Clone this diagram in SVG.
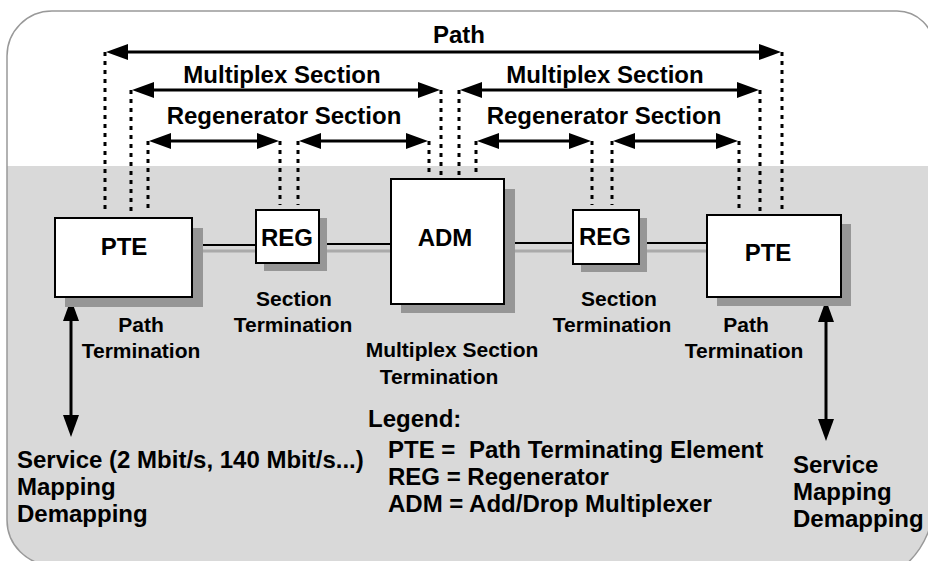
<svg xmlns="http://www.w3.org/2000/svg" width="928" height="561" viewBox="0 0 928 561">
  <style>
    text { font-family: "Liberation Sans", Arial, Helvetica, sans-serif; font-weight: bold; fill: #000; }
    .big { font-size: 24px; }
    .small { font-size: 21px; }
    .mid { text-anchor: middle; }
    .box { fill: #fff; stroke: #000; stroke-width: 2; }
    .shadow { fill: #969696; }
    .arrow { stroke: #000; stroke-width: 3; fill: none; marker-start: url(#ah); marker-end: url(#ah); }
    .dot { stroke: #000; stroke-width: 3; stroke-dasharray: 4 5; fill: none; }
    .link { stroke: #000; stroke-width: 2; fill: none; }
    .link2 { stroke: #aaaaaa; stroke-width: 3; fill: none; }
  </style>
  <defs>
    <marker id="ah" viewBox="0 0 22 16" refX="12" refY="8" markerWidth="22" markerHeight="16" markerUnits="userSpaceOnUse" orient="auto-start-reverse">
      <path d="M0,0 L22,8 L0,16 Z" fill="#000"/>
    </marker>
    <clipPath id="frameClip">
      <path id="framePath" d="M7,56 A45,45 0 0 1 52,11 L897,11 A37,37 0 0 1 934,48 L934,501 A86,86 0 0 1 848,587 L52,565 A45,45 0 0 1 7,520 Z"/>
    </clipPath>
  </defs>

  <g id="frame">
    <path d="M7,56 A45,45 0 0 1 52,11 L897,11 A37,37 0 0 1 934,48 L934,501 A86,86 0 0 1 848,587 L52,565 A45,45 0 0 1 7,520 Z" fill="#fff"/>
    <rect x="0" y="166" width="940" height="430" fill="#d9d9d9" clip-path="url(#frameClip)"/>
    <path d="M7,56 A45,45 0 0 1 52,11 L897,11 A37,37 0 0 1 934,48 L934,501 A86,86 0 0 1 848,587 L52,565 A45,45 0 0 1 7,520 Z" fill="none" stroke="#999" stroke-width="1.5"/>
  </g>

  <g id="connectors">
    <!-- links between elements -->
    <line class="link2" x1="192" y1="251" x2="707" y2="251"/>
    <line class="link" x1="192" y1="245" x2="256" y2="245"/>
    <line class="link" x1="319" y1="244" x2="391" y2="244"/>
    <line class="link" x1="504" y1="243" x2="573" y2="243"/>
    <line class="link" x1="639" y1="243" x2="707" y2="243"/>

    <!-- dotted reference lines -->
    <line class="dot" x1="105" y1="52" x2="105" y2="211"/>
    <line class="dot" x1="131" y1="90" x2="131" y2="211"/>
    <line class="dot" x1="148" y1="141" x2="148" y2="211"/>
    <line class="dot" x1="280" y1="141" x2="280" y2="205"/>
    <line class="dot" x1="298" y1="141" x2="298" y2="205"/>
    <line class="dot" x1="429" y1="141" x2="429" y2="176"/>
    <line class="dot" x1="441" y1="90" x2="441" y2="176"/>
    <line class="dot" x1="459" y1="90" x2="459" y2="176"/>
    <line class="dot" x1="476" y1="141" x2="476" y2="176"/>
    <line class="dot" x1="592" y1="141" x2="592" y2="205"/>
    <line class="dot" x1="612" y1="141" x2="612" y2="205"/>
    <line class="dot" x1="739" y1="141" x2="739" y2="211"/>
    <line class="dot" x1="760" y1="90" x2="760" y2="211"/>
    <line class="dot" x1="782" y1="52" x2="782" y2="211"/>

    <!-- double-headed span arrows (line ends 10px short of tips) -->
    <line id="path-arrow" class="arrow" x1="116" y1="52" x2="771" y2="52"/>
    <line id="ms-left" class="arrow" x1="142" y1="90" x2="430" y2="90"/>
    <line id="ms-right" class="arrow" x1="470" y1="90" x2="749" y2="90"/>
    <line id="rs-1" class="arrow" x1="159" y1="141" x2="269" y2="141"/>
    <line id="rs-2" class="arrow" x1="309" y1="141" x2="418" y2="141"/>
    <line id="rs-3" class="arrow" x1="487" y1="141" x2="581" y2="141"/>
    <line id="rs-4" class="arrow" x1="623" y1="141" x2="728" y2="141"/>

    <!-- service arrows -->
    <line id="svc-left" class="arrow" x1="71" y1="309" x2="71" y2="427"/>
    <line id="svc-right" class="arrow" x1="826" y1="310" x2="826" y2="431"/>
  </g>

  <g id="node-pte-left">
    <rect class="shadow" x="65" y="228" width="138" height="79"/>
    <rect class="box" x="55" y="218" width="137" height="79"/>
    <text class="big mid" x="124" y="255">PTE</text>
  </g>

  <g id="node-reg-left">
    <rect class="shadow" x="264" y="218" width="63" height="53"/>
    <rect class="box" x="256" y="210" width="63" height="53"/>
    <text class="big mid" x="287" y="246">REG</text>
  </g>

  <g id="node-adm">
    <rect class="shadow" x="401" y="189" width="114" height="124"/>
    <rect class="box" x="391" y="179" width="113" height="125"/>
    <text class="big mid" x="445" y="246">ADM</text>
  </g>

  <g id="node-reg-right">
    <rect class="shadow" x="581" y="218" width="66" height="54"/>
    <rect class="box" x="573" y="210" width="66" height="54"/>
    <text class="big mid" x="605" y="245">REG</text>
  </g>

  <g id="node-pte-right">
    <rect class="shadow" x="717" y="224" width="134" height="82"/>
    <rect class="box" x="707" y="215" width="134" height="82"/>
    <text class="big mid" x="768" y="261">PTE</text>
  </g>

  <g id="labels">
    <text class="big mid" x="459" y="43">Path</text>
    <text class="big mid" x="282" y="83">Multiplex Section</text>
    <text class="big mid" x="605" y="83">Multiplex Section</text>
    <text class="big mid" x="284" y="124">Regenerator Section</text>
    <text class="big mid" x="604" y="124">Regenerator Section</text>

    <text class="small mid" x="294" y="306">Section</text>
    <text class="small mid" x="293" y="332">Termination</text>
    <text class="small mid" x="141" y="332">Path</text>
    <text class="small mid" x="141" y="358">Termination</text>

    <text class="small mid" x="619" y="306">Section</text>
    <text class="small mid" x="612" y="332">Termination</text>
    <text class="small mid" x="746" y="332">Path</text>
    <text class="small mid" x="744" y="358">Termination</text>

    <text class="small mid" x="452" y="357">Multiplex Section</text>
    <text class="small mid" x="439" y="384">Termination</text>

    <text class="big" x="368" y="427">Legend:</text>
    <text class="big" x="388" y="458">PTE =<tspan x="469">Path Terminating Element</tspan></text>
    <text class="big" x="388" y="485">REG = Regenerator</text>
    <text class="big" x="388" y="512">ADM = Add/Drop Multiplexer</text>

    <text class="big" x="17" y="468">Service (2 Mbit/s, 140 Mbit/s...)</text>
    <text class="big" x="17" y="495">Mapping</text>
    <text class="big" x="17" y="522">Demapping</text>

    <text class="big" x="793" y="473">Service</text>
    <text class="big" x="793" y="500">Mapping</text>
    <text class="big" x="793" y="527">Demapping</text>
  </g>
</svg>
